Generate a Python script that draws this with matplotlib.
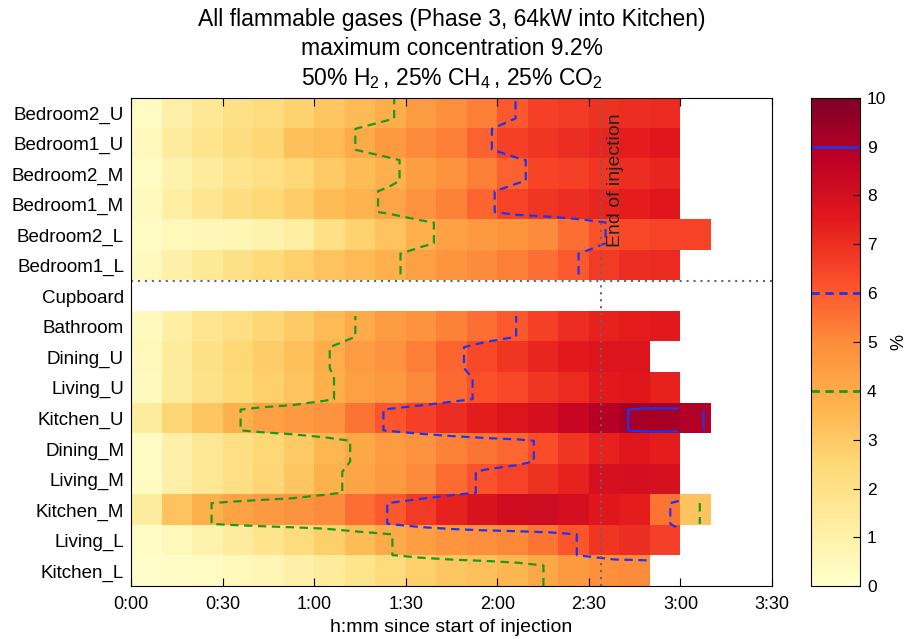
"""Flammable gas concentration heatmap with threshold contours."""

import numpy as np
import matplotlib.pyplot as plt

plt.switch_backend("Agg")
plt.rcParams["font.family"] = ["Liberation Sans", "DejaVu Sans"]
plt.rcParams["mathtext.fontset"] = "custom"
plt.rcParams["mathtext.rm"] = "Liberation Sans"
plt.rcParams["mathtext.it"] = "Liberation Sans:italic"
plt.rcParams["lines.scale_dashes"] = False
plt.rcParams["lines.dashed_pattern"] = [6.0, 4.0]
plt.rcParams["lines.dotted_pattern"] = [1.5, 3.5]

nan = np.nan

# rooms, top to bottom
locations = [
    "Bedroom2_U", "Bedroom1_U", "Bedroom2_M", "Bedroom1_M", "Bedroom2_L",
    "Bedroom1_L", "Cupboard", "Bathroom", "Dining_U", "Living_U",
    "Kitchen_U", "Dining_M", "Living_M", "Kitchen_M", "Living_L", "Kitchen_L",
]

# concentration (%) in 10-minute bins from 0:00 to 3:10
concentration = [
    [0.3, 1.0, 1.6, 2.0, 2.3, 2.7, 3.1, 3.5, 3.9, 4.5, 4.9, 5.3, 6.05, 6.6, 6.7, 6.9, 7.0, 7.1, nan],
    [0.5, 1.3, 1.8, 2.2, 2.6, 3.3, 3.5, 4.02, 4.6, 5.0, 5.3, 5.85, 6.6, 6.8, 7.0, 7.2, 7.4, 7.6, nan],
    [0.3, 0.9, 1.4, 1.8, 2.1, 2.5, 3.0, 3.4, 3.8, 4.4, 4.8, 5.3, 5.85, 6.45, 6.6, 6.8, 7.0, 7.2, nan],
    [0.4, 1.1, 1.7, 2.2, 2.5, 2.9, 3.4, 3.7, 4.15, 4.8, 5.2, 5.8, 6.5, 6.8, 7.0, 7.2, 7.4, 7.6, nan],
    [0.3, 0.5, 0.6, 0.7, 0.9, 1.2, 2.0, 2.7, 3.2, 3.8, 4.3, 4.6, 4.7, 5.0, 5.6, 6.15, 6.4, 6.5, 6.5],
    [0.4, 1.0, 1.5, 2.0, 2.4, 2.8, 3.2, 3.5, 3.8, 4.35, 4.7, 5.0, 5.3, 5.6, 6.05, 6.7, 7.0, 7.1, nan],
    [nan] * 19,
    [0.4, 1.1, 1.7, 2.1, 2.6, 3.0, 3.5, 4.02, 4.5, 4.8, 5.2, 5.6, 6.02, 6.6, 7.0, 7.3, 7.4, 7.5, nan],
    [0.5, 1.4, 2.0, 2.5, 2.9, 3.3, 3.9, 4.5, 4.8, 5.3, 5.8, 6.4, 6.8, 7.2, 7.5, 7.7, 7.7, nan, nan],
    [0.4, 1.3, 1.9, 2.4, 2.8, 3.2, 3.85, 4.35, 4.6, 5.1, 5.7, 6.2, 6.4, 6.8, 7.1, 7.5, 7.6, 7.3, nan],
    [1.3, 2.6, 3.1, 3.8, 4.3, 4.6, 4.8, 5.5, 6.1, 6.6, 7.0, 7.4, 7.7, 8.0, 8.4, 8.85, 9.2, 9.2, 8.94],
    [0.3, 1.0, 1.6, 2.1, 2.5, 3.0, 3.6, 4.1, 4.5, 4.8, 5.2, 5.5, 5.75, 6.25, 6.8, 7.3, 7.6, 7.4, nan],
    [0.3, 1.0, 1.6, 2.1, 2.6, 3.1, 3.75, 4.2, 4.6, 5.0, 5.65, 6.15, 6.5, 6.9, 7.3, 7.9, 8.0, 7.9, nan],
    [1.3, 3.2, 3.75, 4.25, 4.6, 4.8, 5.0, 5.6, 6.02, 6.7, 7.3, 7.8, 8.1, 8.2, 8.0, 7.6, 7.4, 5.5, 3.2],
    [0.2, 0.5, 0.9, 1.3, 1.8, 2.3, 2.8, 3.4, 3.95, 4.4, 4.7, 4.9, 5.1, 5.5, 6.1, 6.8, 7.0, 6.6, nan],
    [0.1, 0.2, 0.3, 0.5, 0.7, 1.0, 1.4, 1.8, 2.3, 2.8, 3.1, 3.3, 3.6, 4.1, 4.6, 4.9, 5.0, nan, nan],
]

bin_minutes = 10
injection_end_minutes = 154

tick_minutes = [0, 30, 60, 90, 120, 150, 180, 210]
tick_labels = ["0:00", "0:30", "1:00", "1:30", "2:00", "2:30", "3:00", "3:30"]

contour_levels = [4, 6, 9]
contour_colours = ["#1a9a1a", "#2233ee", "#2233ee"]
contour_styles = ["dashed", "dashed", "solid"]

title = ("All flammable gases (Phase 3, 64kW into Kitchen)\n"
         "maximum concentration 9.2%\n"
         r"50% H$_2\,$, 25% CH$_4\,$, 25% CO$_2$")

values = np.array(concentration, dtype=float)
grid = np.ma.masked_invalid(values)
n_rows, n_cols = grid.shape
t_end = n_cols * bin_minutes

fig = plt.figure(figsize=(9.08, 6.39), dpi=100)
ax = fig.add_axes([0.1443, 0.0825, 0.706, 0.7646])
cax = fig.add_axes([0.8932, 0.0825, 0.054, 0.7646])

image = ax.imshow(grid, cmap="YlOrRd", vmin=0, vmax=10,
                  extent=(0, t_end, n_rows, 0), aspect="auto",
                  interpolation="nearest")

# contours on a row-repeated grid stretched edge to edge
fine = np.ma.masked_invalid(np.repeat(values, 3, axis=0))
ax.contour(fine, levels=contour_levels, colors=contour_colours,
           linestyles=contour_styles, linewidths=1.6, corner_mask=False,
           extent=(0, t_end, 0, n_rows))

split = locations.index("Cupboard")
ax.axhline(split, color="0.4", linestyle=":", linewidth=1.5)
ax.axvline(injection_end_minutes, color="0.4", linestyle=":", linewidth=1.5)
ax.text(injection_end_minutes + 1.8, 0.5, "End of injection", rotation=90,
        ha="left", va="top", fontsize=14, color="#222222")

ax.set_xlim(0, 210)
ax.set_ylim(n_rows, 0)
ax.set_xticks(tick_minutes, tick_labels)
ax.set_yticks(np.arange(n_rows) + 0.5, locations)
ax.tick_params(axis="x", direction="in", top=True, length=6, labelsize=13, pad=7)
ax.tick_params(axis="y", length=0, labelsize=13.5, pad=5)
ax.set_xlabel("h:mm since start of injection", fontsize=14, labelpad=4)
ax.set_title(title, fontsize=16.5, linespacing=1.32, pad=9)

cbar = fig.colorbar(image, cax=cax, ticks=range(0, 11))
cbar.ax.tick_params(direction="in", length=5, labelsize=12.5, pad=5)
cbar.set_label("%", fontsize=13, labelpad=3)
for level, colour, style in zip(contour_levels, contour_colours, contour_styles):
    cbar.ax.axhline(level, color=colour, linestyle=style, linewidth=2)

fig.savefig("out.png", dpi=100)
plt.close(fig)
